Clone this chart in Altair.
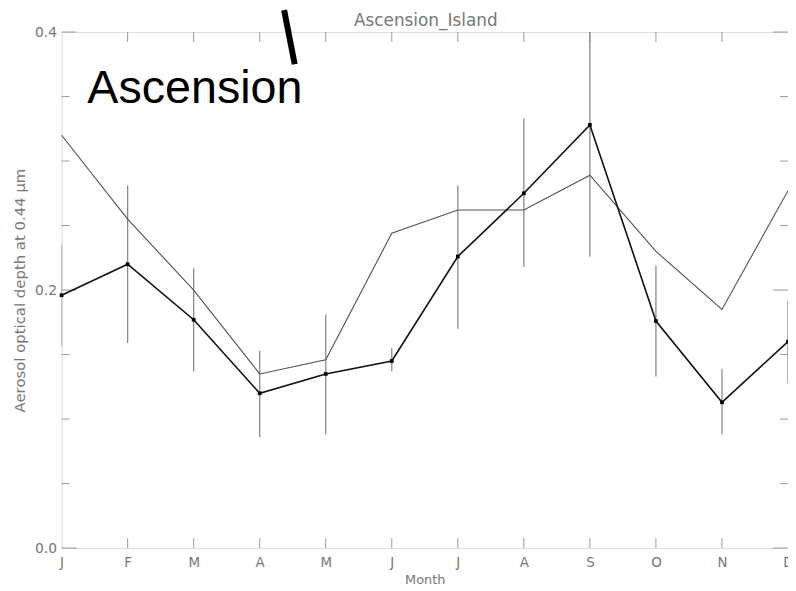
import altair as alt
import pandas as pd

months = ["J", "F", "M", "A", "M", "J", "J", "A", "S", "O", "N", "D"]
month_idx = list(range(12))
aod_obs = [0.196, 0.220, 0.177, 0.120, 0.135, 0.145, 0.226, 0.275, 0.328, 0.176, 0.113, 0.160]
err_low = [0.156, 0.159, 0.137, 0.086, 0.088, 0.137, 0.170, 0.218, 0.226, 0.133, 0.088, 0.128]
err_high = [0.236, 0.281, 0.217, 0.153, 0.181, 0.155, 0.281, 0.333, 0.430, 0.219, 0.139, 0.192]
aod_model = [0.320, 0.255, 0.200, 0.135, 0.146, 0.244, 0.262, 0.262, 0.289, 0.230, 0.185, 0.277]

y_minor = [0.05, 0.10, 0.15, 0.25, 0.30, 0.35]
y_major = [0.0, 0.2, 0.4]
x_inner = list(range(1, 11))

chart_title = ["Ascension_Island"]
label_text = ["Ascension"]
label_pos_x = [0.39]
label_pos_y = [0.345]
pointer_x = [3.37]
pointer_x2 = [3.53]
pointer_y = [0.417]
pointer_y2 = [0.375]

W, H = 732, 520
GRAY = "#777777"
FONT = "DejaVu Sans"

df = pd.DataFrame({"idx": month_idx, "v": aod_obs, "lo": err_low, "hi": err_high, "model": aod_model})

label_expr = "[" + ",".join(f"'{m}'" for m in months) + "][datum.value]"

xs = alt.Scale(domain=[0, 11], nice=False, zero=False)
ys = alt.Scale(domain=[0, 0.4], nice=False)

ax_x = alt.Axis(values=month_idx, labelExpr=label_expr, ticks=False, domain=False, grid=False,
                labelFlush=False, labelPadding=8, labelFontSize=13.5, labelColor=GRAY, labelFont=FONT,
                title="Month", titleFont=FONT, titleFontSize=13, titleFontWeight="normal",
                titleColor=GRAY, titlePadding=4)
ax_y = alt.Axis(values=y_major, format=".1f", ticks=False, domain=False, grid=False,
                labelFlush=False, labelPadding=5, labelFontSize=14, labelColor=GRAY, labelFont=FONT,
                title="Aerosol optical depth at 0.44 μm", titleFont=FONT, titleFontSize=15,
                titleFontWeight="normal", titleColor=GRAY, titlePadding=7)

X = lambda f="idx": alt.X(f"{f}:Q", scale=xs, axis=ax_x)
Y = lambda f="v": alt.Y(f"{f}:Q", scale=ys, axis=ax_y)

base = alt.Chart(df)

errbars = base.mark_rule(color="#8a8a8a", strokeWidth=1.3, clip=True).encode(
    x=X(), y=Y("lo"), y2="hi")
model_line = base.mark_line(color="#505050", strokeWidth=1.1).encode(x=X(), y=Y("model"))
obs_line = base.mark_line(color="#111111", strokeWidth=1.6).encode(x=X(), y=Y("v"))
obs_pts = base.mark_square(color="#000000", size=14, opacity=1).encode(x=X(), y=Y("v"))

ymin_df = pd.DataFrame({"v": y_minor})
ymaj_df = pd.DataFrame({"v": y_major})
xin_df = pd.DataFrame({"idx": x_inner})
tick_col = "#9a9a9a"

yt_l_min = alt.Chart(ymin_df).mark_rule(color=tick_col).encode(y=Y(), x=alt.value(0), x2=alt.value(8))
yt_r_min = alt.Chart(ymin_df).mark_rule(color=tick_col).encode(y=Y(), x=alt.value(W), x2=alt.value(W - 8))
yt_l_maj = alt.Chart(ymaj_df).mark_rule(color=tick_col).encode(y=Y(), x=alt.value(0), x2=alt.value(15))
yt_r_maj = alt.Chart(ymaj_df).mark_rule(color=tick_col).encode(y=Y(), x=alt.value(W), x2=alt.value(W - 15))
xt_b = alt.Chart(xin_df).mark_rule(color=tick_col).encode(x=X(), y=alt.value(H), y2=alt.value(H - 10))
xt_t = alt.Chart(xin_df).mark_rule(color=tick_col).encode(x=X(), y=alt.value(0), y2=alt.value(10))

title_df = pd.DataFrame({"t": chart_title})
title_mark = alt.Chart(title_df).mark_text(font=FONT, fontSize=17, color=GRAY, align="center",
                                           baseline="alphabetic").encode(
    x=alt.value(W / 2 + 1), y=alt.value(-6), text="t:N")

ann_df = pd.DataFrame({"idx": label_pos_x, "v": label_pos_y, "t": label_text})
ann = alt.Chart(ann_df).mark_text(font="Liberation Sans", fontSize=47, color="#000000",
                                  align="left", baseline="alphabetic").encode(
    x=X(), y=Y(), text="t:N")
ptr_df = pd.DataFrame({"idx": pointer_x, "x2": pointer_x2, "v": pointer_y, "y2": pointer_y2})
ptr = alt.Chart(ptr_df).mark_rule(color="#000000", strokeWidth=6).encode(
    x=X(), x2="x2", y=Y(), y2="y2")

chart = alt.layer(
    yt_l_min, yt_r_min, yt_l_maj, yt_r_maj, xt_b, xt_t,
    errbars, model_line, obs_line, obs_pts, ann, ptr, title_mark
).properties(
    width=W, height=H,
    autosize=alt.AutoSizeParams(type="none"),
    padding={"left": 54, "top": 22, "right": 0, "bottom": 38},
).configure_view(stroke="#a8a8a8", strokeWidth=1).configure(background="white")

chart.save("out.html", embed_options={"renderer": "svg", "actions": False})
